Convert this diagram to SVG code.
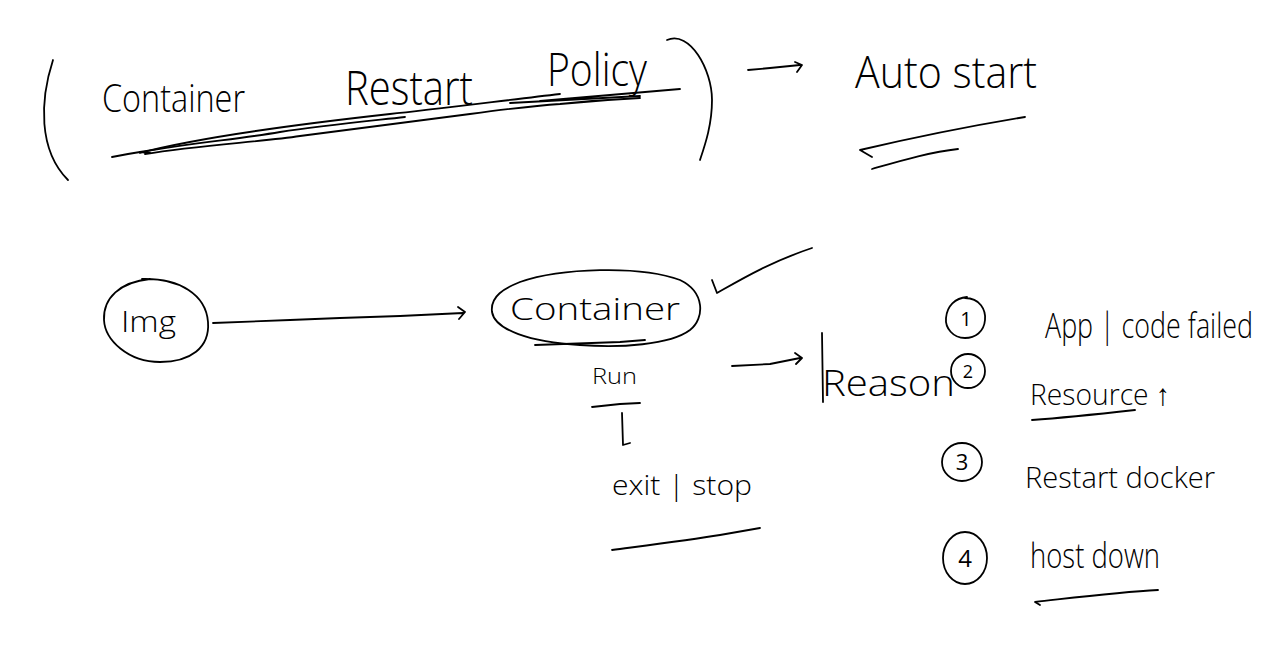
<svg xmlns="http://www.w3.org/2000/svg" width="1277" height="649" viewBox="0 0 1277 649">
<style>
.ink{fill:none;stroke:#000;stroke-width:1.8;stroke-linecap:round;stroke-linejoin:round}
.t{font-family:"Open Sans","Liberation Sans",sans-serif;font-weight:300;fill:#000}
.n{font-family:"Open Sans","Liberation Sans",sans-serif;font-weight:400;fill:#000;text-anchor:middle}
</style>
<rect width="1277" height="649" fill="#fff"/>
<g id="title">
  <path class="ink" d="M53,60 C40,100 38,150 68,180"/>
  <path class="ink" d="M667,40 C690,30 712,70 712,100 C712,125 705,145 700,160"/>
  <text class="t" x="102" y="112" font-size="38" textLength="143" lengthAdjust="spacingAndGlyphs">Container</text>
  <text class="t" x="345" y="105" font-size="48" textLength="128" lengthAdjust="spacingAndGlyphs">Restart</text>
  <text class="t" x="547" y="86" font-size="46" textLength="100" lengthAdjust="spacingAndGlyphs">Policy</text>
  <path class="ink" d="M112,157 L128,154 L140,152 L150,153 M140,153 C200,137 300,124 390,114 C430,110 500,101 560,94"/>
  <path class="ink" d="M140,152 C200,142 240,139 280,132 C320,126 360,122 405,117"/>
  <path class="ink" d="M145,154 C200,145 260,142 300,136 C360,128 420,120 470,114 C500,110 530,106 560,104 C590,101 620,99 640,98"/>
  <path class="ink" d="M510,103 L640,96 M540,101 L680,89"/>
</g>
<g id="autostart">
  <text class="t" x="855" y="88" font-size="44" textLength="182" lengthAdjust="spacingAndGlyphs">Auto start</text>
  <path class="ink" d="M872,157 L860,150 C920,136 970,126 1025,117"/>
  <path class="ink" d="M872,169 C900,161 930,152 958,149"/>
</g>
<g id="img">
  <path class="ink" d="M142,279 C180,278 206,295 208,322 C210,348 190,362 160,362 C128,362 105,340 104,320 C103,298 120,282 150,279"/>
  <text class="t" x="121" y="332" font-size="30" textLength="55" lengthAdjust="spacingAndGlyphs">Img</text>
</g>
<g id="container">
  <path class="ink" d="M520,282 C560,268 640,265 680,280 C705,292 705,318 690,330 C670,345 620,348 580,345 C530,342 495,330 492,312 C490,296 505,288 520,282"/>
  <path class="ink" d="M535,345 L620,342 L645,340"/>
  <text class="t" x="510" y="320" font-size="32" textLength="170" lengthAdjust="spacingAndGlyphs">Container</text>
</g>
<g id="check">
  <path class="ink" d="M712,280 L717,293 C740,280 770,262 812,248"/>
</g>
<g id="run">
  <text class="t" x="592" y="384" font-size="22" textLength="45" lengthAdjust="spacingAndGlyphs">Run</text>
  <path class="ink" d="M592,407 L620,404 L640,403"/>
</g>
<g id="exitstop">
  <text class="t" x="612" y="495" font-size="28" textLength="140" lengthAdjust="spacingAndGlyphs">exit | stop</text>
  <path class="ink" d="M612,550 C650,545 690,540 720,535 L760,528"/>
</g>
<g id="reason">
  <path class="ink" d="M822,333 L823,402"/>
  <text class="t" x="822" y="396" font-size="36" textLength="133" lengthAdjust="spacingAndGlyphs">Reason</text>
</g>
<g id="item1">
  <path class="ink" d="M965,298 C980,298 986,310 985,320 C984,332 975,338 965,338 C953,338 945,328 946,318 C947,306 955,298 967,297"/>
  <text class="n" x="966" y="326" font-size="20">1</text>
  <text class="t" transform="translate(1045,338) scale(1,1.25)" x="0" y="0" font-size="28" textLength="208" lengthAdjust="spacingAndGlyphs">App | code failed</text>
</g>
<g id="item2">
  <circle class="ink" cx="968" cy="371" r="17"/>
  <text class="n" x="968" y="378" font-size="18">2</text>
  <text class="t" x="1030" y="405" font-size="30" textLength="140" lengthAdjust="spacingAndGlyphs">Resource ↑</text>
  <path class="ink" d="M1032,420 C1060,418 1090,415 1135,410"/>
</g>
<g id="item3">
  <ellipse class="ink" cx="962" cy="462" rx="20" ry="19"/>
  <text class="n" x="962" y="470" font-size="22">3</text>
  <text class="t" x="1025" y="488" font-size="30" textLength="190" lengthAdjust="spacingAndGlyphs">Restart docker</text>
</g>
<g id="item4">
  <ellipse class="ink" cx="965" cy="558" rx="22" ry="26"/>
  <text class="n" x="965" y="567" font-size="24">4</text>
  <text class="t" x="1030" y="568" font-size="34" textLength="130" lengthAdjust="spacingAndGlyphs">host down</text>
  <path class="ink" d="M1040,605 L1035,602 C1080,597 1120,592 1158,590"/>
</g>
<g id="connectors">
  <path class="ink" d="M748,70 L770,68 L800,65 M795,62 L802,65 L797,72"/>
  <path class="ink" d="M213,323 L290,320 L340,318 L400,316 L463,313 M458,307 L465,312 L459,319"/>
  <path class="ink" d="M732,366 L770,364 L800,358 M795,353 L802,358 L796,364"/>
  <path class="ink" d="M622,413 L623,445 L630,443"/>
</g>
</svg>
